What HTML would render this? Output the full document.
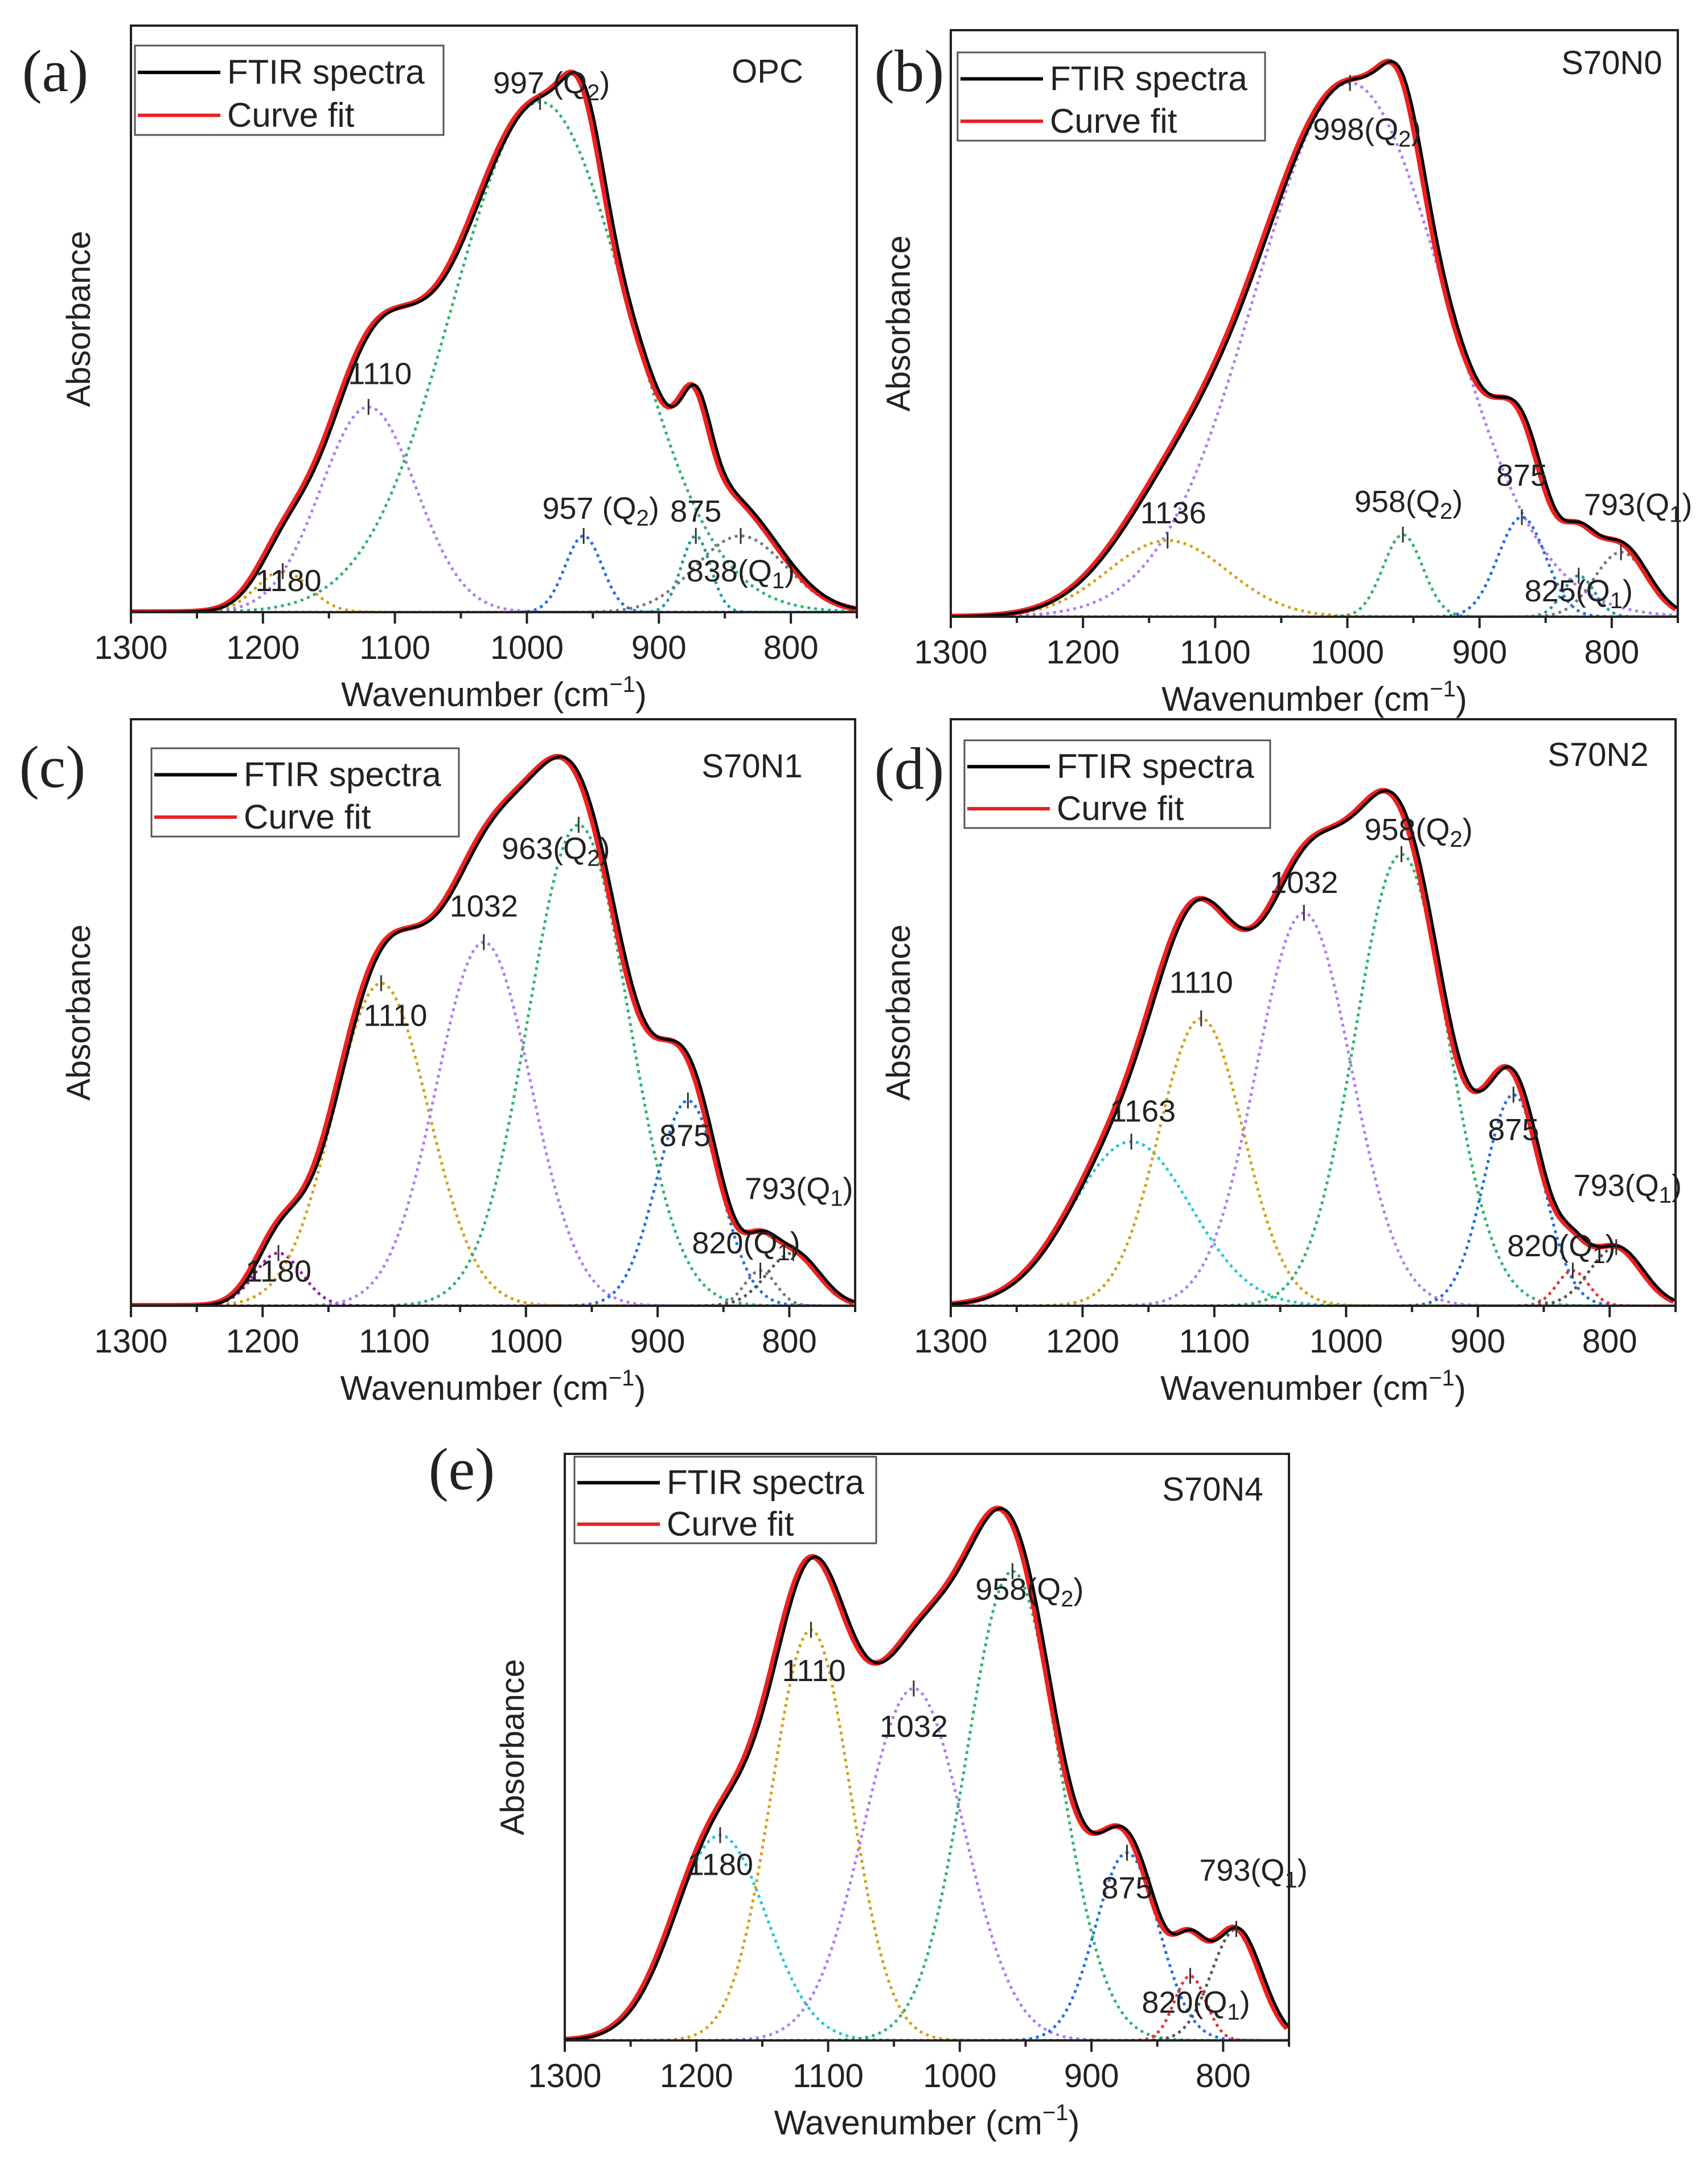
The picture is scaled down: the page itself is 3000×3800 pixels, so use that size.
<!DOCTYPE html>
<html><head><meta charset="utf-8"><style>
html,body{margin:0;padding:0;background:#fff}
svg{display:block}
text{font-family:"Liberation Sans",sans-serif;fill:#222}
</style></head><body>
<svg id="fig" width="3000" height="3800" viewBox="0 0 3000 3800" xmlns="http://www.w3.org/2000/svg"></svg>
<script>
// ---- data (one set of small arrays per panel) ----
const xTicks = [1300, 1200, 1100, 1000, 900, 800];
const xMinor = [1250, 1150, 1050, 950, 850, 750];

const aCenters = [1185, 1120, 990, 957, 872, 838];
const aHeights = [0.07, 0.35, 0.87, 0.13, 0.13, 0.13];
const aWidths  = [20, 36, 66, 14, 11, 34];
const aLabels  = ["1180", "1110", "997 (Q2)", "957 (Q2)", "875", "838(Q1)"];

const bCenters = [1136, 998, 958, 868, 825, 793];
const bHeights = [0.13, 0.91, 0.14, 0.17, 0.07, 0.11];
const bWidths  = [45, 72, 15, 18, 12, 20];
const bLabels  = ["1136", "998(Q2)", "958(Q2)", "875", "825(Q1)", "793(Q1)"];

const cCenters = [1188, 1110, 1032, 960, 877, 822, 797];
const cHeights = [0.09, 0.55, 0.62, 0.82, 0.35, 0.06, 0.09];
const cWidths  = [18, 36, 36, 38, 24, 12, 20];
const cLabels  = ["1180", "1110", "1032", "963(Q2)", "875", "820(Q1)", "793(Q1)"];

const dCenters = [1163, 1110, 1032, 958, 873, 828, 795];
const dHeights = [0.28, 0.49, 0.67, 0.77, 0.36, 0.06, 0.10];
const dWidths  = [45, 32, 36, 35, 22, 12, 20];
const dLabels  = ["1163", "1110", "1032", "958(Q2)", "875", "820(Q1)", "793(Q1)"];

const eCenters = [1182, 1113, 1035, 960, 873, 825, 790];
const eHeights = [0.35, 0.70, 0.60, 0.80, 0.32, 0.11, 0.19];
const eWidths  = [35, 30, 38, 35, 24, 12, 19];
const eLabels  = ["1180", "1110", "1032", "958(Q2)", "875", "820(Q1)", "793(Q1)"];

// ---- layout/style (not data) ----
const panels = [
 {id:"a",x:230,y:45,w:1275,h:1030,name:"OPC",nameX:1348,nameY:145,lx:97,ly:160,leg:[237,80,542,157],
  c:aCenters,hh:aHeights,s:aWidths,lab:aLabels,col:["#d4a017","#b07cf0","#2db36b","#1f6fe0","#1a9a9a","#777"],
  dx:[10,20,20,30,0,0],dy:[35,-40,-15,-30,-25,80]},
 {id:"b",x:1670,y:53,w:1277,h:1030,name:"S70N0",nameX:2831,nameY:130,lx:1597,ly:160,leg:[1682,92,540,155],
  c:bCenters,hh:bHeights,s:bWidths,lab:bLabels,col:["#d4a017","#b07cf0","#2db36b","#1f6fe0","#1a9a9a","#777"],
  dx:[10,30,10,0,0,30],dy:[-30,100,-40,-55,45,-65]},
 {id:"c",x:230,y:1263,w:1272,h:1030,name:"S70N1",nameX:1321,nameY:1365,lx:92,ly:1382,leg:[266,1314,540,155],
  c:cCenters,hh:cHeights,s:cWidths,lab:cLabels,col:["#9a1aa8","#d4a017","#b07cf0","#2db36b","#1f6fe0","#777","#555"],
  dx:[0,25,0,-40,-5,-25,10],dy:[50,75,-45,60,80,-30,-95]},
 {id:"d",x:1670,y:1263,w:1273,h:1030,name:"S70N2",nameX:2807,nameY:1345,lx:1597,ly:1385,leg:[1694,1300,537,154],
  c:dCenters,hh:dHeights,s:dWidths,lab:dLabels,col:["#22c8d8","#d4a017","#b07cf0","#2db36b","#1f6fe0","#e83030","#555"],
  dx:[20,0,0,30,0,-20,20],dy:[-35,-45,-35,-25,80,-25,-90]},
 {id:"e",x:992,y:2553,w:1272,h:1030,name:"S70N4",nameX:2130,nameY:2635,lx:811,ly:2615,leg:[1009,2558,530,152],
  c:eCenters,hh:eHeights,s:eWidths,lab:eLabels,col:["#22c8d8","#d4a017","#b07cf0","#2db36b","#1f6fe0","#e83030","#555"],
  dx:[0,5,0,30,0,10,30],dy:[70,90,85,50,80,65,-85]}
];

const NS="http://www.w3.org/2000/svg";
const svg=document.getElementById("fig");
function mk(tag,attrs,parent){const e=document.createElementNS(NS,tag);for(const k in attrs)e.setAttribute(k,attrs[k]);(parent||svg).appendChild(e);return e;}
function gauss(x,c,h,s){return h*Math.exp(-(x-c)*(x-c)/(2*s*s));}
function subLabel(t,txt){
  const m=txt.match(/^(.*\(Q)(\d)(\).*)$/);
  if(!m){t.textContent=txt;return;}
  t.appendChild(document.createTextNode(m[1]));
  const sp=document.createElementNS(NS,"tspan");sp.setAttribute("font-size","40");sp.setAttribute("dy","12");sp.textContent=m[2];t.appendChild(sp);
  const sp2=document.createElementNS(NS,"tspan");sp2.setAttribute("dy","-12");sp2.textContent=m[3];t.appendChild(sp2);
}

panels.forEach(p=>{
  const g=mk("g",{});
  
  
  const X=v=>p.x+(1300-v)/550*p.w;
  const Y=v=>p.y+p.h-v*p.h;
  const clipId="clip"+p.id;
  const cp=mk("clipPath",{id:clipId},g);mk("rect",{x:p.x,y:p.y,width:p.w,height:p.h},cp);
  const plot=mk("g",{"clip-path":"url(#"+clipId+")"},g);
  p.c.forEach((c,i)=>{
    let d="";for(let v=1300;v>=750;v-=2){d+=(v===1300?"M":"L")+X(v).toFixed(1)+","+Y(gauss(v,c,p.hh[i],p.s[i])).toFixed(1);}
    const path=mk("path",{d:d,fill:"none",stroke:p.col[i],"stroke-width":5,"stroke-dasharray":"5 7"},plot);
    
    
  });
  let d="";for(let v=1300;v>=750;v-=2){let s=0;p.c.forEach((c,i)=>s+=gauss(v,c,p.hh[i],p.s[i]));d+=(v===1300?"M":"L")+X(v).toFixed(1)+","+Y(s).toFixed(1);}
  const fit=mk("path",{d:d,fill:"none",stroke:"#f02020","stroke-width":10,transform:"translate(-3,0)"},plot);
  
  
  const sp=mk("path",{d:d,fill:"none",stroke:"#000","stroke-width":5,transform:"translate(2,0)"},plot);
  
  
  p.c.forEach((c,i)=>{
    const px=X(c),py=Y(p.hh[i]);
    mk("line",{x1:px,y1:py-14,x2:px,y2:py+14,stroke:"#333","stroke-width":3},g);
    const t=mk("text",{x:px+p.dx[i],y:py+p.dy[i],"font-size":54,"text-anchor":"middle"},g);
    subLabel(t,p.lab[i]);
    
    
  });
  const fr=mk("rect",{x:p.x,y:p.y,width:p.w,height:p.h,fill:"none",stroke:"#222","stroke-width":4},g);
  
  
  xTicks.forEach(v=>{
    mk("line",{x1:X(v),y1:p.y+p.h,x2:X(v),y2:p.y+p.h+20,stroke:"#222","stroke-width":4},g);
    const t=mk("text",{x:X(v),y:p.y+p.h+82,"font-size":58,"text-anchor":"middle"},g);
    t.textContent=v;
    
    
  });
  xMinor.forEach(v=>{mk("line",{x1:X(v),y1:p.y+p.h,x2:X(v),y2:p.y+p.h+11,stroke:"#222","stroke-width":4},g);});
  const xt=mk("text",{x:p.x+p.w/2,y:p.y+p.h+165,"font-size":60,"text-anchor":"middle"},g);
  xt.innerHTML='Wavenumber (cm<tspan font-size="40" dy="-25">−1</tspan><tspan dy="25">)</tspan>';
  
  
  const yt=mk("text",{x:0,y:0,"font-size":58,"text-anchor":"middle",transform:"translate("+(p.x-72)+","+(p.y+p.h/2)+") rotate(-90)"},g);
  yt.textContent="Absorbance";
  
  
  const nm=mk("text",{x:p.nameX,y:p.nameY,"font-size":58,"text-anchor":"middle"},g);
  nm.textContent=p.name;
  
  
  const pl=mk("text",{x:p.lx,y:p.ly,"font-size":105,"text-anchor":"middle"},g);
  pl.setAttribute("style","font-family:'Liberation Serif',serif");
  pl.textContent="("+p.id+")";
  
  
  const [lx,ly,lw,lh]=p.leg;
  const lg=mk("g",{},g);
  
  
  mk("rect",{x:lx,y:ly,width:lw,height:lh,fill:"#fff",stroke:"#555","stroke-width":3},lg);
  mk("line",{x1:lx+5,y1:ly+lh*0.3,x2:lx+150,y2:ly+lh*0.3,stroke:"#000","stroke-width":6},lg);
  mk("line",{x1:lx+5,y1:ly+lh*0.78,x2:lx+150,y2:ly+lh*0.78,stroke:"#e82020","stroke-width":6},lg);
  const l1=mk("text",{x:lx+162,y:ly+lh*0.3+20,"font-size":60},lg);l1.textContent="FTIR spectra";
  
  
  const l2=mk("text",{x:lx+162,y:ly+lh*0.78+20,"font-size":60},lg);l2.textContent="Curve fit";
  
  
});
</script>
</body></html>
